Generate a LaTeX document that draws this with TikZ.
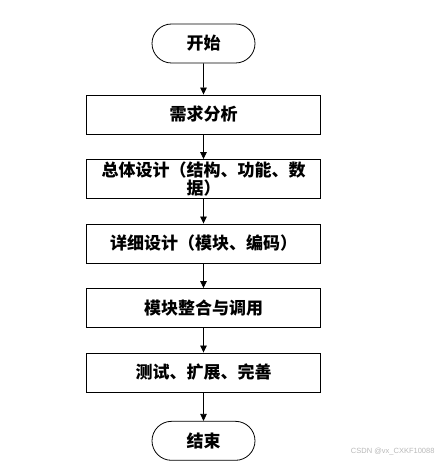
\documentclass[tikz,border=0pt]{standalone}
\usepackage{fontspec}
\setmainfont{Noto Sans CJK SC}
\newfontfamily\wmfont{Liberation Sans}
\usepackage{tikz}
\usetikzlibrary{positioning,arrows.meta,shapes.misc}
\newdimen\nodeDist
\nodeDist=64.5pt

\begin{document}
\begin{tikzpicture}[
    x=1pt,y=1pt,
    font=\fontsize{17pt}{18pt}\selectfont\bfseries,
    stepbox/.style={%
      draw,
      rectangle,
      line width=0.8pt,
      minimum width=234pt,
      minimum height=39pt,
      text width=222pt,
      align=center,
      inner sep=0pt,
    },
    terminal/.style={%
      draw,
      rounded rectangle,
      line width=0.8pt,
      minimum width=103pt,
      minimum height=39pt,
      inner sep=0pt,
    },
    flow/.style={-{Triangle[width=6.5pt,length=7pt]}, line width=0.8pt},
  ]
    \useasboundingbox (0,0) rectangle (443,-465);

    \node [terminal] (start) at (203.5,-43.5) {开始};
    \path (start) ++(-90:\nodeDist*1.1) node [stepbox] (analysis) {需求分析};
    \path (analysis) ++(-90:\nodeDist) node [stepbox] (overall) {总体设计（结构、功能、数\\据）};
    \path (overall) ++(-90:\nodeDist) node [stepbox] (detail) {详细设计（模块、编码）};
    \path (detail) ++(-90:\nodeDist) node [stepbox] (merge) {模块整合与调用};
    \path (merge) ++(-90:\nodeDist) node [stepbox] (test) {测试、扩展、完善};
    \path (test) ++(-90:\nodeDist*1.06) node [terminal] (stop) {结束};

    \draw [flow] (start) -- (analysis);
    \draw [flow] (analysis) -- (overall);
    \draw [flow] (overall) -- (detail);
    \draw [flow] (detail) -- (merge);
    \draw [flow] (merge) -- (test);
    \draw [flow] (test) -- (stop);

    % watermark
    \node [font=\wmfont\fontsize{7.5pt}{9pt}\selectfont, text=gray!55, anchor=east] (mark) at (438,-452) {CSDN @vx\_CXKF10088};
\end{tikzpicture}
\end{document}
